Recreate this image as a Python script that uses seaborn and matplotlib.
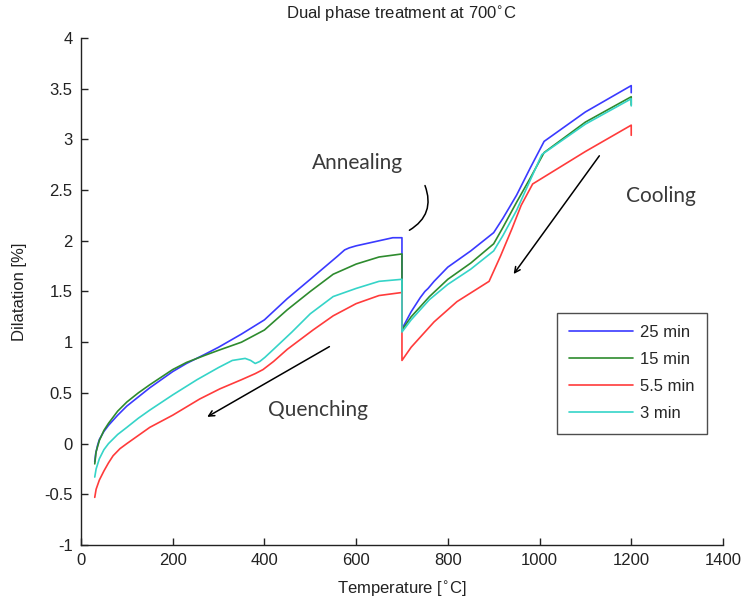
import matplotlib
matplotlib.use("Agg")
import matplotlib.pyplot as plt
from matplotlib.patches import FancyArrowPatch
import numpy as np
import pandas as pd
import seaborn as sns

# Dilatometer traces: cooling from 1200 °C to 700 °C, hold at 700 °C, then quench
labels = ["25 min", "15 min", "5.5 min", "3 min"]

temp_25 = [1200, 1200, 1100, 1010, 980, 950, 920, 900, 850, 800, 770, 757, 750, 740, 720, 700,
           700, 680, 650, 600, 585, 575, 560, 500, 450, 400, 350, 300, 270, 230, 200,
           150, 125, 100, 80, 60, 50, 40, 36, 32, 30]
dil_25 = [3.46, 3.53, 3.27, 2.98, 2.72, 2.45, 2.22, 2.08, 1.90, 1.74, 1.60, 1.53, 1.50, 1.44, 1.30, 1.13,
          2.03, 2.03, 2.00, 1.95, 1.93, 1.91, 1.85, 1.62, 1.43, 1.22, 1.08, 0.95, 0.88, 0.79, 0.71,
          0.55, 0.46, 0.37, 0.28, 0.18, 0.12, 0.04, -0.02, -0.10, -0.18]

temp_15 = [1200, 1200, 1100, 1010, 980, 950, 920, 900, 850, 800, 760, 720, 700,
           700, 650, 600, 550, 500, 450, 400, 350, 300, 270, 230, 200, 150,
           125, 100, 80, 60, 50, 40, 33, 30]
dil_15 = [3.34, 3.42, 3.17, 2.87, 2.62, 2.38, 2.13, 1.97, 1.78, 1.62, 1.45, 1.25, 1.12,
          1.87, 1.84, 1.77, 1.67, 1.50, 1.32, 1.12, 1.00, 0.92, 0.87, 0.80, 0.73, 0.58,
          0.50, 0.41, 0.32, 0.20, 0.13, 0.03, -0.08, -0.20]

temp_55 = [1200, 1200, 1100, 985, 960, 940, 915, 890, 820, 770, 720, 700,
           700, 650, 600, 550, 506, 450, 420, 397, 380, 350, 303, 259, 200, 150,
           125, 100, 85, 70, 60, 50, 40, 33, 30]
dil_55 = [3.04, 3.14, 2.88, 2.56, 2.35, 2.12, 1.85, 1.60, 1.40, 1.20, 0.95, 0.82,
          1.49, 1.46, 1.38, 1.26, 1.12, 0.93, 0.81, 0.73, 0.69, 0.63, 0.54, 0.44, 0.28, 0.16,
          0.08, 0.00, -0.05, -0.12, -0.19, -0.27, -0.36, -0.45, -0.53]

temp_3 = [1200, 1200, 1100, 1005, 975, 950, 920, 900, 850, 800, 760, 720, 700,
          700, 650, 600, 550, 500, 460, 420, 401, 390, 380, 370, 358, 330, 300, 253,
          200, 150, 125, 100, 80, 60, 50, 40, 33, 30]
dil_3 = [3.33, 3.40, 3.15, 2.85, 2.55, 2.30, 2.05, 1.90, 1.72, 1.57, 1.42, 1.22, 1.10,
         1.62, 1.60, 1.53, 1.45, 1.28, 1.10, 0.93, 0.85, 0.81, 0.79, 0.82, 0.84, 0.82, 0.75, 0.63,
         0.48, 0.33, 0.25, 0.16, 0.09, 0.00, -0.06, -0.15, -0.25, -0.33]

colors = ["#3a3aff", "#2e8b2e", "#ff3b3b", "#35d4c8"]

frames = []
for lab, t, d in zip(labels, [temp_25, temp_15, temp_55, temp_3],
                     [dil_25, dil_15, dil_55, dil_3]):
    frames.append(pd.DataFrame({"Temperature": t, "Dilatation": d, "Hold": lab}))
df = pd.concat(frames, ignore_index=True)

sns.set_style("white")
plt.rcParams["font.family"] = ["Liberation Sans", "DejaVu Sans"]

fig = plt.figure(figsize=(7.43, 6.08), dpi=100)
ax = fig.add_axes([0.109, 0.1036, 0.864, 0.834])

sns.lineplot(data=df, x="Temperature", y="Dilatation", hue="Hold",
             hue_order=labels, palette=colors, sort=False, estimator=None,
             linewidth=1.2, ax=ax)

ax.set_xlim(0, 1400)
ax.set_ylim(-1, 4)
ax.set_xticks(np.arange(0, 1401, 200))
ax.set_yticks(np.arange(-1, 4.01, 0.5))
ax.set_yticklabels(["-1", "-0.5", "0", "0.5", "1", "1.5", "2", "2.5", "3", "3.5", "4"])
ax.tick_params(direction="in", length=5, width=1, labelsize=12, colors="#222222",
               bottom=True, left=True, pad=6)
for side in ["top", "right"]:
    ax.spines[side].set_visible(False)
for side in ["left", "bottom"]:
    ax.spines[side].set_color("#222222")
    ax.spines[side].set_linewidth(1.0)

ax.set_xlabel("Temperature [$^{\\circ}$C]", fontsize=12, color="#222222", labelpad=8)
ax.set_ylabel("Dilatation [%]", fontsize=12, color="#222222", labelpad=12)
ax.set_title("Dual phase treatment at 700$^{\\circ}$C", fontsize=12, color="#222222", pad=14)

leg = ax.legend(loc="upper left", bbox_to_anchor=(0.741, 0.458), fontsize=12,
                handlelength=3.8, frameon=True, fancybox=False, borderpad=0.75,
                labelspacing=0.72, handletextpad=0.45, borderaxespad=0)
leg.get_frame().set_edgecolor("#222222")
leg.get_frame().set_linewidth(1.0)
for line in leg.get_lines():
    line.set_linewidth(1.2)

note_font = dict(family=["Lato", "DejaVu Sans"], fontsize=15, color="#3a3a3a")
ax.text(602, 2.77, "Annealing", ha="center", va="center", **note_font)
ax.text(1265, 2.44, "Cooling", ha="center", va="center", **note_font)
ax.text(517, 0.33, "Quenching", ha="center", va="center", **note_font)

ax.add_patch(FancyArrowPatch((748, 2.57), (711, 2.09), arrowstyle="-",
                             connectionstyle="arc3,rad=-0.45", color="black", lw=1.1))
ax.annotate("", xy=(940, 1.65), xytext=(1134, 2.86),
            arrowprops=dict(arrowstyle="->", color="black", lw=1.1))
ax.annotate("", xy=(270, 0.25), xytext=(547, 0.97),
            arrowprops=dict(arrowstyle="->", color="black", lw=1.1))

fig.savefig("out.png", dpi=100)
